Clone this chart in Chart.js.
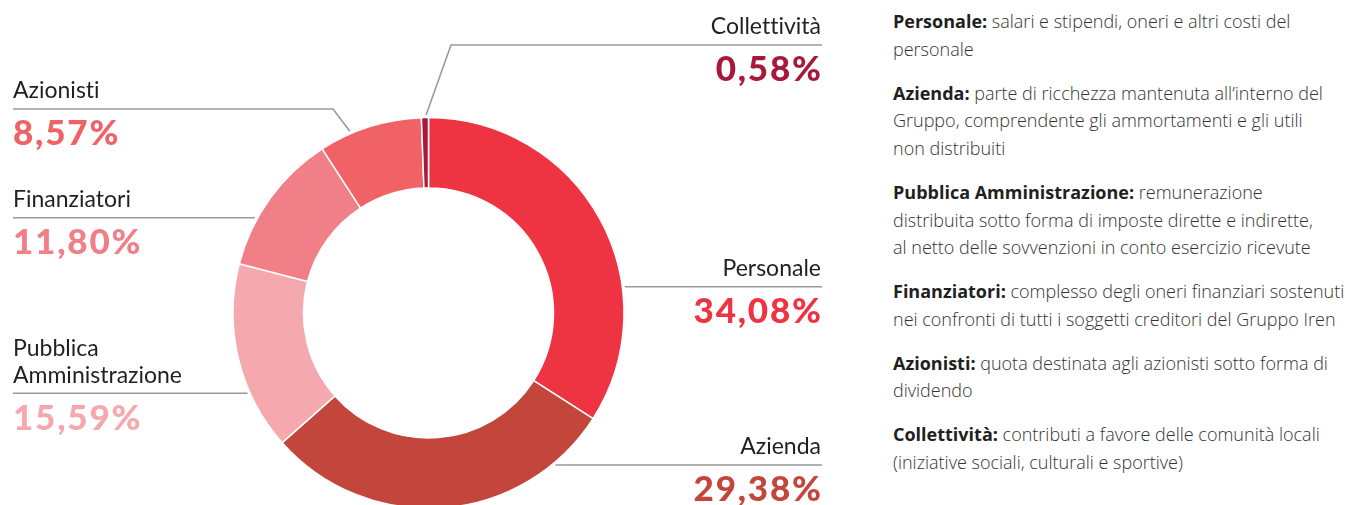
<!DOCTYPE html>
<html lang="it">
<head>
<meta charset="utf-8">
<title>Distribuzione del valore aggiunto</title>
<script src="https://cdn.jsdelivr.net/npm/chart.js@4.4.1/dist/chart.umd.min.js"></script>
<style>
  html, body { margin: 0; padding: 0; background: #fff; }
  body { width: 1345px; height: 505px; overflow: hidden; position: relative; font-family: Lato, "Open Sans", sans-serif; font-variant-ligatures: none; }
  #chart { position: absolute; left: 0; top: 0; }
  .lbl { position: absolute; white-space: nowrap; line-height: 1.2; }
  .name { font-size: 23px; font-weight: 400; color: #231f20; }
  .pct { font-size: 35px; font-weight: 900; letter-spacing: 1.8px; }
  #desc { position: absolute; left: 893px; top: 8px; font-family: "Open Sans", Lato, sans-serif; font-size: 18px; line-height: 27.7px; color: #333; font-weight: 300; white-space: nowrap; }
  #desc p { margin: 0 0 16.2px 0; }
  #desc b { font-weight: 700; color: #231f20; }
</style>
</head>
<body>
<canvas id="chart" width="857" height="626"></canvas>
<div id="labels"></div>
<div id="desc">
  <p><b>Personale:</b> salari e stipendi, oneri e altri costi del<br>personale</p>
  <p><b>Azienda:</b> parte di ricchezza mantenuta all’interno del<br>Gruppo, comprendente gli ammortamenti e gli utili<br>non distribuiti</p>
  <p><b>Pubblica Amministrazione:</b> remunerazione<br>distribuita sotto forma di imposte dirette e indirette,<br>al netto delle sovvenzioni in conto esercizio ricevute</p>
  <p><b>Finanziatori:</b> complesso degli oneri finanziari sostenuti<br>nei confronti di tutti i soggetti creditori del Gruppo Iren</p>
  <p><b>Azionisti:</b> quota destinata agli azionisti sotto forma di<br>dividendo</p>
  <p><b>Collettività:</b> contributi a favore delle comunità locali<br>(iniziative sociali, culturali e sportive)</p>
</div>
<script>
// Shares of distributed value (%)
const categories = ['Personale', 'Azienda', 'Pubblica Amministrazione', 'Finanziatori', 'Azionisti', 'Collettività'];
const shares = [34.08, 29.38, 15.59, 11.80, 8.57, 0.58];
const sliceColors = ['#ee3442', '#c3463c', '#f5a8ae', '#f17f87', '#f06266', '#a71a3c'];
// Name lines shown next to each slice
const nameLines = [['Personale'], ['Azienda'], ['Pubblica', 'Amministrazione'], ['Finanziatori'], ['Azionisti'], ['Collettività']];

// Callout layout: side, y of the rule, and for bent leaders the elbow x and the ring angle (deg, clockwise from top)
const callouts = [
  { side: 'right', lineY: 286.7 },
  { side: 'right', lineY: 465 },
  { side: 'left',  lineY: 393.3 },
  { side: 'left',  lineY: 217.7 },
  { side: 'left',  lineY: 109, elbowX: 333, angle: 336.6 },
  { side: 'right', lineY: 45,  elbowX: 451, angle: 359.3 }
];
const LEFT_X = 13, RIGHT_X = 822, GAP = 2.5;
const OUTER_R = 195.5, INNER_R = 125;

const fmt = v => v.toFixed(2).replace('.', ',') + '%';

// Text labels (HTML), placed by baseline
const labelsEl = document.getElementById('labels');
function placeText(text, cls, side, baseline, size, color, trail) {
  const d = document.createElement('div');
  d.className = 'lbl ' + cls;
  d.textContent = text;
  d.style.top = (baseline - 0.987 * size) + 'px';
  if (side === 'left') { d.style.left = LEFT_X + 'px'; }
  else { d.style.left = '0px'; d.style.width = (RIGHT_X - 1 + (trail || 0)) + 'px'; d.style.textAlign = 'right'; }
  if (color) d.style.color = color;
  labelsEl.appendChild(d);
}
categories.forEach((c, i) => {
  const co = callouts[i];
  const lines = nameLines[i];
  lines.forEach((t, k) => {
    const base = co.lineY - 10 - (lines.length - 1 - k) * 26.6;
    placeText(t, 'name', co.side, base, 23);
  });
  placeText(fmt(shares[i]), 'pct', co.side, co.lineY + 36, 35, sliceColors[i], 1.8);
});

// Leader lines drawn from the doughnut geometry
const leaderPlugin = {
  id: 'leaders',
  afterDatasetsDraw(chart) {
    const arc = chart.getDatasetMeta(0).data[0];
    const cx = arc.x, cy = arc.y, r = arc.outerRadius + GAP;
    const ctx = chart.ctx;
    ctx.save();
    ctx.strokeStyle = '#9a9a9a';
    ctx.lineWidth = 1.6;
    callouts.forEach(co => {
      ctx.beginPath();
      if (co.elbowX !== undefined) {
        const a = co.angle * Math.PI / 180;
        const ex = cx + r * Math.sin(a), ey = cy - r * Math.cos(a);
        const farX = co.side === 'left' ? LEFT_X : RIGHT_X;
        ctx.moveTo(farX, co.lineY);
        ctx.lineTo(co.elbowX, co.lineY);
        ctx.lineTo(ex, ey);
      } else {
        const dy = co.lineY - cy;
        const dx = Math.sqrt(Math.max(r * r - dy * dy, 0));
        if (co.side === 'left') { ctx.moveTo(LEFT_X, co.lineY); ctx.lineTo(cx - dx, co.lineY); }
        else { ctx.moveTo(cx + dx, co.lineY); ctx.lineTo(RIGHT_X, co.lineY); }
      }
      ctx.stroke();
    });
    ctx.restore();
  }
};

new Chart(document.getElementById('chart'), {
  type: 'doughnut',
  data: {
    labels: categories,
    datasets: [{
      data: shares,
      backgroundColor: sliceColors,
      borderColor: '#ffffff',
      borderWidth: 1.5,
      hoverOffset: 0,
      offset: 0
    }]
  },
  options: {
    responsive: false,
    animation: false,
    devicePixelRatio: 1,
    radius: OUTER_R,
    cutout: (INNER_R / OUTER_R * 100) + '%',
    rotation: 0,
    layout: { padding: 0 },
    plugins: { legend: { display: false }, tooltip: { enabled: false } }
  },
  plugins: [leaderPlugin]
});
</script>
</body>
</html>
